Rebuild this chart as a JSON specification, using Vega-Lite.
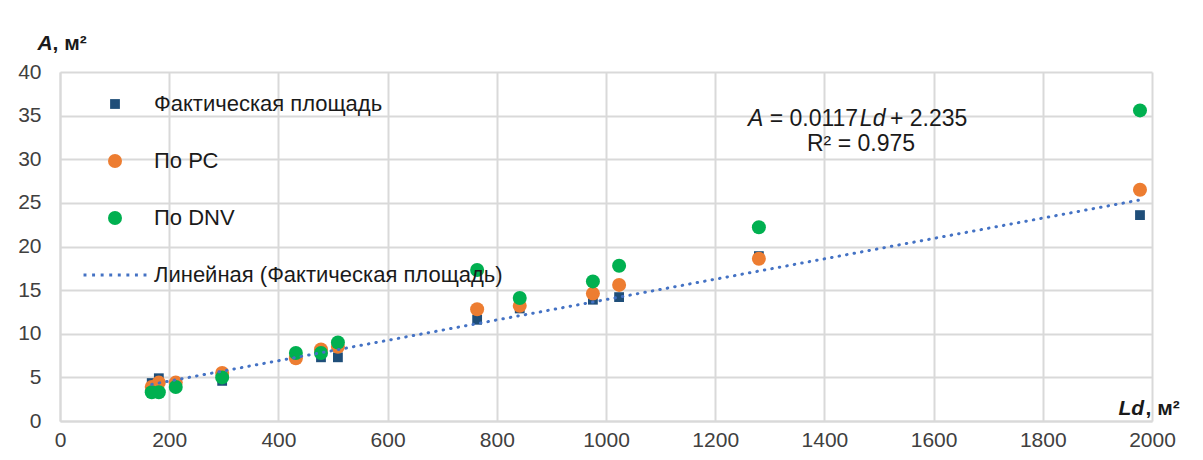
{
  "$schema": "https://vega.github.io/schema/vega-lite/v6.json",
  "width": 1092,
  "height": 349,
  "autosize": "none",
  "padding": {"left": 60, "top": 72, "right": 51, "bottom": 39},
  "background": "white",
  "config": {
    "view": {"stroke": null},
    "font": "Liberation Sans",
    "axis": {
      "labelFont": "Liberation Sans",
      "labelFontSize": 21,
      "labelColor": "#404040",
      "labelFlush": false,
      "labelOverlap": false,
      "ticks": false,
      "gridColor": "#D9D9D9",
      "gridWidth": 2,
      "domainColor": "#D9D9D9",
      "domainWidth": 2,
      "titleFont": "Liberation Sans",
      "titleFontSize": 21,
      "titleFontWeight": "bold",
      "titleColor": "#1a1a1a"
    },
    "legend": {
      "orient": "none",
      "legendX": 44,
      "legendY": 21,
      "padding": 0,
      "labelFont": "Liberation Sans",
      "labelFontSize": 22,
      "labelColor": "#1a1a1a",
      "symbolSize": 196,
      "symbolStrokeWidth": 0,
      "rowPadding": 35,
      "labelOffset": 28,
      "labelLimit": 500
    }
  },
  "datasets": {
    "pts": [
      {"series": "Фактическая площадь", "Ld": 168, "A": 4.35},
      {"series": "Фактическая площадь", "Ld": 181, "A": 4.9},
      {"series": "Фактическая площадь", "Ld": 212, "A": 4.0},
      {"series": "Фактическая площадь", "Ld": 297, "A": 4.6},
      {"series": "Фактическая площадь", "Ld": 432, "A": 7.3},
      {"series": "Фактическая площадь", "Ld": 478, "A": 7.3},
      {"series": "Фактическая площадь", "Ld": 509, "A": 7.3},
      {"series": "Фактическая площадь", "Ld": 764, "A": 11.6},
      {"series": "Фактическая площадь", "Ld": 842, "A": 12.9},
      {"series": "Фактическая площадь", "Ld": 976, "A": 13.9},
      {"series": "Фактическая площадь", "Ld": 1024, "A": 14.2},
      {"series": "Фактическая площадь", "Ld": 1280, "A": 18.9},
      {"series": "Фактическая площадь", "Ld": 1978, "A": 23.6},
      {"series": "По РС", "Ld": 168, "A": 3.9},
      {"series": "По РС", "Ld": 181, "A": 4.4},
      {"series": "По РС", "Ld": 212, "A": 4.4},
      {"series": "По РС", "Ld": 297, "A": 5.5},
      {"series": "По РС", "Ld": 432, "A": 7.2},
      {"series": "По РС", "Ld": 478, "A": 8.2},
      {"series": "По РС", "Ld": 509, "A": 8.5},
      {"series": "По РС", "Ld": 764, "A": 12.8},
      {"series": "По РС", "Ld": 842, "A": 13.2},
      {"series": "По РС", "Ld": 976, "A": 14.6},
      {"series": "По РС", "Ld": 1024, "A": 15.6},
      {"series": "По РС", "Ld": 1280, "A": 18.6},
      {"series": "По РС", "Ld": 1978, "A": 26.5},
      {"series": "По DNV", "Ld": 168, "A": 3.3},
      {"series": "По DNV", "Ld": 181, "A": 3.3},
      {"series": "По DNV", "Ld": 212, "A": 3.9},
      {"series": "По DNV", "Ld": 297, "A": 5.0},
      {"series": "По DNV", "Ld": 432, "A": 7.8},
      {"series": "По DNV", "Ld": 478, "A": 7.8},
      {"series": "По DNV", "Ld": 509, "A": 9.0},
      {"series": "По DNV", "Ld": 764, "A": 17.3},
      {"series": "По DNV", "Ld": 842, "A": 14.1},
      {"series": "По DNV", "Ld": 976, "A": 16.0},
      {"series": "По DNV", "Ld": 1024, "A": 17.8},
      {"series": "По DNV", "Ld": 1280, "A": 22.2},
      {"series": "По DNV", "Ld": 1978, "A": 35.6}
    ],
    "trend": [
      {"Ld": 168, "A": 4.2},
      {"Ld": 1975, "A": 25.3}
    ],
    "eq": [
      {"part": "A"},
      {"part": "= 0.0117"},
      {"part": "Ld"},
      {"part": "+ 2.235"},
      {"part": "R² = 0.975"}
    ]
  },
  "layer": [
    {
      "data": {"name": "pts"},
      "mark": {"type": "point", "filled": true, "size": 196, "opacity": 1},
      "encoding": {
        "x": {
          "field": "Ld", "type": "quantitative",
          "scale": {"domain": [0, 2000], "nice": false, "zero": true},
          "axis": {
            "orient": "bottom",
            "values": [0, 200, 400, 600, 800, 1000, 1200, 1400, 1600, 1800, 2000],
            "format": "d",
            "labelPadding": 8,
            "title": "Ld",
            "titleFontStyle": "italic",
            "titleAnchor": "start",
            "titleAlign": "left",
            "titleBaseline": "alphabetic",
            "titleX": 1058,
            "titleY": -7
          }
        },
        "y": {
          "field": "A", "type": "quantitative",
          "scale": {"domain": [0, 40], "nice": false},
          "axis": {
            "orient": "left",
            "values": [0, 5, 10, 15, 20, 25, 30, 35, 40],
            "labelPadding": 19,
            "title": "A",
            "titleFontStyle": "italic",
            "titleAngle": 0,
            "titleAlign": "left",
            "titleBaseline": "alphabetic",
            "titleX": -23,
            "titleY": -23
          }
        },
        "color": {
          "field": "series", "type": "nominal",
          "scale": {
            "domain": ["Фактическая площадь", "По РС", "По DNV", "Линейная (Фактическая площадь)"],
            "range": ["#1F4E79", "#ED7D31", "#00B050", "#4472C4"]
          },
          "legend": {"title": null}
        },
        "shape": {
          "field": "series", "type": "nominal",
          "scale": {
            "domain": ["Фактическая площадь", "По РС", "По DNV", "Линейная (Фактическая площадь)"],
            "range": [
              "M-0.7,-0.7H0.7V0.7H-0.7Z",
              "circle",
              "circle",
              "M-4.496,-0.21h0.42v0.42h-0.42z M-3.271,-0.21h0.42v0.42h-0.42z M-2.047,-0.21h0.42v0.42h-0.42z M-0.822,-0.21h0.42v0.42h-0.42z M0.402,-0.21h0.42v0.42h-0.42z M1.627,-0.21h0.42v0.42h-0.42z M2.851,-0.21h0.42v0.42h-0.42z M4.076,-0.21h0.42v0.42h-0.42z"
            ]
          },
          "legend": {"title": null}
        }
      }
    },
    {
      "data": {"name": "trend"},
      "mark": {"type": "line", "color": "#4472C4", "strokeWidth": 3, "strokeDash": [0.5, 7.1], "strokeCap": "round"},
      "encoding": {
        "x": {"field": "Ld", "type": "quantitative", "scale": {"domain": [0, 2000], "nice": false}, "axis": null},
        "y": {"field": "A", "type": "quantitative", "scale": {"domain": [0, 40], "nice": false}, "axis": null}
      }
    },
    {
      "data": {"name": "eq"},
      "transform": [{"filter": "datum.part === 'A'"}],
      "mark": {"type": "text", "fontSize": 23, "font": "Liberation Sans", "fontStyle": "italic", "color": "#1a1a1a", "align": "left", "baseline": "alphabetic", "dx": 0},
      "encoding": {
        "text": {"field": "part"},
        "x": {"datum": 1260, "type": "quantitative", "scale": {"domain": [0, 2000], "nice": false}, "axis": null},
        "y": {"datum": 33.8, "type": "quantitative", "scale": {"domain": [0, 40], "nice": false}, "axis": null}
      }
    },
    {
      "data": {"name": "eq"},
      "transform": [{"filter": "datum.part === '= 0.0117'"}],
      "mark": {"type": "text", "fontSize": 23, "font": "Liberation Sans", "color": "#1a1a1a", "align": "left", "baseline": "alphabetic", "dx": 21.7},
      "encoding": {
        "text": {"field": "part"},
        "x": {"datum": 1260, "type": "quantitative", "scale": {"domain": [0, 2000], "nice": false}, "axis": null},
        "y": {"datum": 33.8, "type": "quantitative", "scale": {"domain": [0, 40], "nice": false}, "axis": null}
      }
    },
    {
      "data": {"name": "eq"},
      "transform": [{"filter": "datum.part === 'Ld'"}],
      "mark": {"type": "text", "fontSize": 23, "font": "Liberation Sans", "fontStyle": "italic", "color": "#1a1a1a", "align": "left", "baseline": "alphabetic", "dx": 111.9},
      "encoding": {
        "text": {"field": "part"},
        "x": {"datum": 1260, "type": "quantitative", "scale": {"domain": [0, 2000], "nice": false}, "axis": null},
        "y": {"datum": 33.8, "type": "quantitative", "scale": {"domain": [0, 40], "nice": false}, "axis": null}
      }
    },
    {
      "data": {"name": "eq"},
      "transform": [{"filter": "datum.part === '+ 2.235'"}],
      "mark": {"type": "text", "fontSize": 23, "font": "Liberation Sans", "color": "#1a1a1a", "align": "left", "baseline": "alphabetic", "dx": 142},
      "encoding": {
        "text": {"field": "part"},
        "x": {"datum": 1260, "type": "quantitative", "scale": {"domain": [0, 2000], "nice": false}, "axis": null},
        "y": {"datum": 33.8, "type": "quantitative", "scale": {"domain": [0, 40], "nice": false}, "axis": null}
      }
    },
    {
      "data": {"name": "eq"},
      "transform": [{"filter": "datum.part === 'R² = 0.975'"}],
      "mark": {"type": "text", "fontSize": 23, "font": "Liberation Sans", "color": "#1a1a1a", "align": "center", "baseline": "alphabetic"},
      "encoding": {
        "text": {"field": "part"},
        "x": {
          "datum": 1467, "type": "quantitative",
          "scale": {"domain": [0, 2000], "nice": false},
          "axis": {
            "orient": "top", "labels": false, "grid": false, "domain": false, "ticks": false,
            "title": ", м²", "titleAnchor": "start", "titleAlign": "left", "titleBaseline": "alphabetic",
            "titleX": 1085, "titleY": 342
          }
        },
        "y": {
          "datum": 30.95, "type": "quantitative",
          "scale": {"domain": [0, 40], "nice": false},
          "axis": {
            "orient": "right", "labels": false, "grid": false, "domain": false, "ticks": false,
            "title": ", м²", "titleAngle": 0, "titleAlign": "left", "titleBaseline": "alphabetic",
            "titleX": -1100, "titleY": -23
          }
        }
      }
    }
  ],
  "resolve": {"axis": {"x": "independent", "y": "independent"}}
}
